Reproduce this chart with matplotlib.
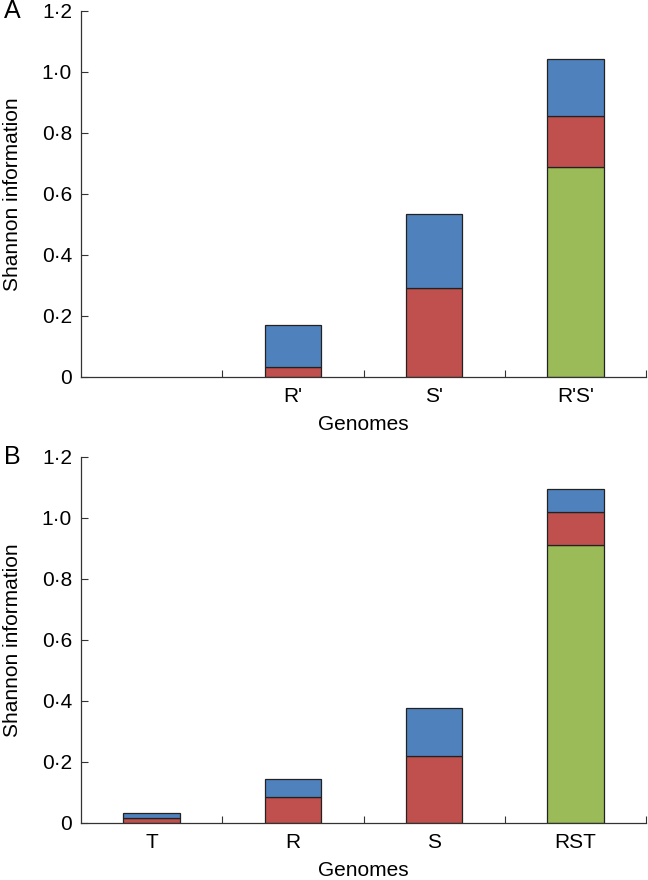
import numpy as np
import matplotlib
matplotlib.use('Agg')
import matplotlib.pyplot as plt
from matplotlib.ticker import FixedLocator

plt.rcParams['font.family'] = ['Liberation Sans', 'DejaVu Sans']

# Panel A
cats_a = ['', "R'", "S'", "R'S'"]
green_a = [0.0, 0.0, 0.0, 0.688]
red_a = [0.0, 0.034, 0.291, 0.166]
blue_a = [0.0, 0.135, 0.243, 0.188]

# Panel B
cats_b = ['T', 'R', 'S', 'RST']
green_b = [0.0, 0.0, 0.0, 0.910]
red_b = [0.017, 0.086, 0.219, 0.110]
blue_b = [0.015, 0.059, 0.159, 0.076]

yticks = [0, 0.2, 0.4, 0.6, 0.8, 1.0, 1.2]
ytick_labels = ['0', '0·2', '0·4', '0·6', '0·8', '1·0', '1·2']

colors = ['#9BBB59', '#C0504D', '#4F81BD']
fs = 15


def stacked(ax, cats, green, red, blue, letter):
    x = np.arange(len(cats))
    bottom = np.zeros(len(cats))
    for vals, c in zip([green, red, blue], colors):
        vals = np.array(vals)
        m = vals > 0
        ax.bar(x[m], vals[m], 0.4, bottom=bottom[m], color=c,
               edgecolor='#222222', linewidth=0.9)
        bottom = bottom + vals
    ax.set_xlim(-0.5, len(cats) - 0.5)
    ax.set_ylim(0, 1.2)
    ax.set_yticks(yticks)
    ax.set_yticklabels(ytick_labels)
    ax.set_xticks(x)
    ax.set_xticklabels(cats)
    ax.xaxis.set_minor_locator(FixedLocator(list(x + 0.5)))
    ax.tick_params(axis='x', which='major', length=0, pad=7.5, labelsize=fs)
    ax.tick_params(axis='x', which='minor', direction='in', length=5,
                   width=0.8, color='#333333')
    ax.tick_params(axis='y', direction='in', length=5, width=0.8,
                   color='#333333', labelsize=fs, pad=6.5)
    for s in ['top', 'right']:
        ax.spines[s].set_visible(False)
    for s in ['left', 'bottom']:
        ax.spines[s].set_linewidth(0.9)
        ax.spines[s].set_color('#333333')
    ax.set_xlabel('Genomes', fontsize=fs, labelpad=6)
    ax.set_ylabel('Shannon information', fontsize=fs, labelpad=14)
    ax.text(-0.137, 1.0, letter, transform=ax.transAxes, fontsize=18,
            ha='left', va='center')


fig = plt.figure(figsize=(6.48, 8.8), dpi=100)
ax1 = fig.add_axes([0.125, 0.5716, 0.872, 0.416])
ax2 = fig.add_axes([0.125, 0.0648, 0.872, 0.416])

stacked(ax1, cats_a, green_a, red_a, blue_a, 'A')
stacked(ax2, cats_b, green_b, red_b, blue_b, 'B')

fig.savefig('out.png', dpi=100)
